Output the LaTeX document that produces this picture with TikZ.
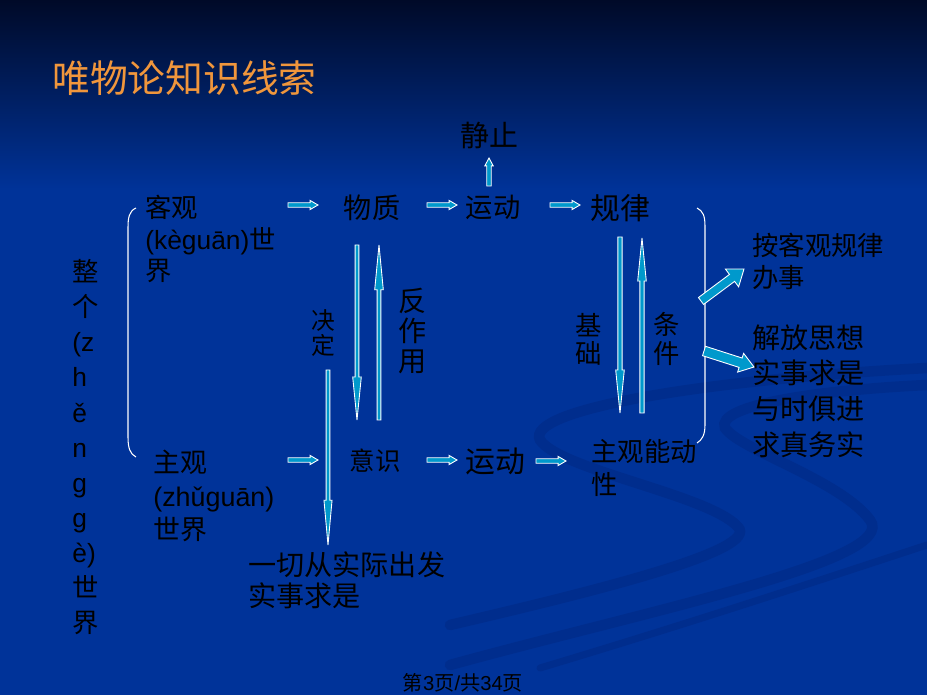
\documentclass[tikz,border=0pt]{standalone}
\usepackage{fontspec}
\setmainfont{Liberation Sans}
\newfontfamily\cjk{Noto Sans CJK SC}
\usetikzlibrary{calc}

\definecolor{bgblue}{RGB}{0,51,153}
\definecolor{bgtop}{RGB}{0,10,40}
\definecolor{swirl}{RGB}{0,44,138}
\definecolor{arrcyan}{RGB}{0,153,204}
\definecolor{titleor}{RGB}{240,150,60}

\newcommand{\fz}[2]{\cjk\fontsize{#1pt}{#2pt}\selectfont}
% block arrow: start, tip, shaft half width, head half width, head length
\newcommand{\blkarr}[5]{%
  \path #1 coordinate (bas) #2 coordinate (bae);
  \coordinate (bac) at ($(bae)!#5!(bas)$);
  \filldraw[arrbody] ($(bas)!#3!90:(bae)$) -- ($(bac)!#3!90:(bae)$)
    -- ($(bac)!#4!90:(bae)$) -- (bae) -- ($(bac)!#4!-90:(bae)$)
    -- ($(bac)!#3!-90:(bae)$) -- ($(bas)!#3!-90:(bae)$) -- cycle;}

\begin{document}
\begin{tikzpicture}[x=0.02cm, y=-0.02cm,
    txt/.style={inner sep=0pt, text=black, align=left},
    vtxt/.style={inner sep=0pt, text=black, align=center},
    arrbody/.style={fill=arrcyan, draw=white, line width=0.5pt, line join=miter},
    brace/.style={draw=white, line width=0.6pt},
    swirlband/.style={draw=swirl, line cap=round, opacity=0.8}]

  % background
  \useasboundingbox (0,0) rectangle (927,695);
  \fill[bgblue] (0,0) rectangle (927,695);
  \shade[top color=bgtop, bottom color=bgblue] (0,0) rectangle (927,190);
  \draw[swirlband, line width=6pt] (450,625) .. controls (600,590) and (760,550) .. (738,527)
    .. controls (710,495) and (560,470) .. (540,440) .. controls (525,410) and (700,380) .. (927,368);
  \draw[swirlband, line width=6pt] (450,665) .. controls (650,610) and (900,560) .. (870,520)
    .. controls (840,480) and (740,450) .. (725,428) .. controls (715,405) and (820,390) .. (927,385);
  \draw[swirlband, line width=4pt] (540,668) .. controls (700,620) and (820,580) .. (927,545);

  % title
  \node[anchor=west, inner sep=0pt, text=titleor, font=\fz{21.5}{24}] (title) at (52,78) {唯物论知识线索};

  % upper row
  \node[txt, font=\fz{16.5}{18}] (jz) at (489,135) {静止};
  \node[txt, anchor=north west, font=\fz{15}{18}] (kg) at (145,195) {客观\\{\rmfamily (kèguān)}世\\界};
  \node[txt, font=\fz{16}{18}] (wz) at (372,208) {物质};
  \node[txt, font=\fz{15.5}{18}] (yd1) at (493,207) {运动};
  \node[txt, font=\fz{17}{18}] (gl) at (620,208) {规律};

  % lower row
  \node[txt, anchor=north west, font=\fz{15.3}{19}] (zg) at (153,450) {主观\\{\rmfamily (zhǔguān)}\\世界};
  \node[txt, font=\fz{14.5}{18}] (ys) at (375,461) {意识};
  \node[txt, font=\fz{17}{18}] (yd2) at (495,461) {运动};
  \node[txt, anchor=north west, font=\fz{15}{19}] (nd) at (591,439) {主观能动\\性};

  % vertical labels
  \node[vtxt, font=\fz{13.5}{14.5}] (jd) at (323,333) {决\\定};
  \node[vtxt, font=\fz{16}{17}] (fzy) at (413,331) {反\\作\\用};
  \node[vtxt, font=\fz{15}{16}] (jc) at (589,339) {基\\础};
  \node[vtxt, font=\fz{15}{16}] (tj) at (667,339) {条\\件};
  \node[txt, anchor=north west, font=\fz{15}{20}] (zgsj) at (72,259)
    {整\\个\\{\rmfamily (z}\\{\rmfamily h}\\{\rmfamily ě}\\{\rmfamily n}\\{\rmfamily g}\\{\rmfamily g}\\{\rmfamily è)}\\世\\界};

  % conclusions
  \node[txt, anchor=north west, font=\fz{15}{18}] (aks) at (752,233) {按客观规律\\办事};
  \node[txt, anchor=north west, font=\fz{16}{20.3}] (jf) at (752,324) {解放思想\\实事求是\\与时俱进\\求真务实};
  \node[txt, anchor=north west, font=\fz{16}{18}] (yq) at (248,551) {一切从实际出发\\实事求是};

  % footer
  \node[txt, font=\fz{11.5}{13}] (foot) at (463,683) {第{\rmfamily 3}页{\rmfamily /}共{\rmfamily 34}页};

  % brackets
  \draw[brace] (136,208) .. controls (129,211) and (128,218) .. (128,228) -- (128,437)
    .. controls (128,448) and (130,454) .. (136,457);
  \draw[brace] (697,208) .. controls (703,211) and (705,216) .. (705,226) -- (705,425)
    .. controls (705,435) and (702,440) .. (697,443);

  % small flow arrows
  \blkarr{($(wz)+(-84,-3)$)}{($(wz)+(-54,-3)$)}{1.25pt}{2.6pt}{4.5pt}
  \blkarr{($(yd1)+(-66,-2)$)}{($(yd1)+(-36,-2)$)}{1.25pt}{2.6pt}{4.5pt}
  \blkarr{($(gl)+(-70,-3)$)}{($(gl)+(-40,-3)$)}{1.25pt}{2.6pt}{4.5pt}
  \blkarr{($(jz)+(0,51)$)}{($(jz)+(0,23)$)}{1.25pt}{2.4pt}{4.5pt}
  \blkarr{($(ys)+(-87,-1)$)}{($(ys)+(-57,-1)$)}{1.25pt}{2.6pt}{4.5pt}
  \blkarr{($(yd2)+(-68,-1)$)}{($(yd2)+(-38,-1)$)}{1.25pt}{2.6pt}{4.5pt}
  \blkarr{($(yd2)+(41,0)$)}{($(yd2)+(71,0)$)}{1.25pt}{2.6pt}{4.5pt}

  % long vertical arrows
  \blkarr{($(wz)+(-15,37)$)}{($(wz)+(-15,212)$)}{1.1pt}{2.45pt}{24.5pt}
  \blkarr{($(wz)+(7,212)$)}{($(wz)+(7,37)$)}{1.1pt}{2.45pt}{25.5pt}
  \blkarr{($(jd)+(5,37)$)}{($(jd)+(5,212)$)}{1.1pt}{2.3pt}{25.5pt}
  \blkarr{($(gl)+(0,29)$)}{($(gl)+(0,205)$)}{1.2pt}{2.45pt}{24.5pt}
  \blkarr{($(gl)+(22,205)$)}{($(gl)+(22,30)$)}{1.2pt}{2.45pt}{24.5pt}

  % big arrows to the conclusions
  \blkarr{($(aks.north west)+(-51,68)$)}{($(aks.north west)+(-8,36)$)}{2.45pt}{6.3pt}{8.5pt}
  \blkarr{($(jf.north west)+(-48,27)$)}{($(jf.north west)+(2,43)$)}{2.8pt}{5.6pt}{8pt}
\end{tikzpicture}
\end{document}
